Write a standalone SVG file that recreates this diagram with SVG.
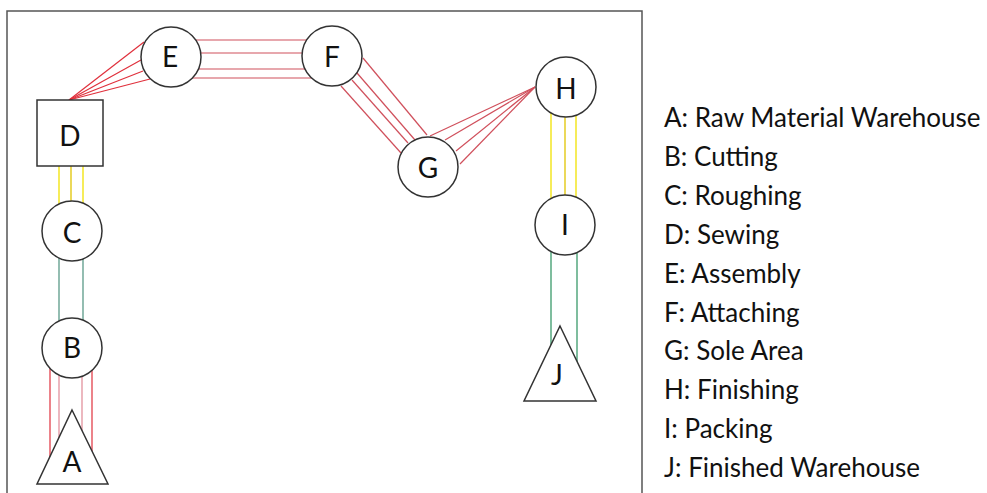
<svg xmlns="http://www.w3.org/2000/svg" width="987" height="493" viewBox="0 0 987 493">
<style>
.node{fill:#fff;stroke:#333;stroke-width:1.5}
.lbl{font-family:Lato,"Open Sans",sans-serif;font-size:28px;fill:#111;text-anchor:middle}
.leg{font-family:Lato,"Open Sans",sans-serif;font-size:26px;fill:#111}
.r{stroke:#e0303c;stroke-width:1.2;fill:none}
.r2{stroke:#d0505c;stroke-width:1.2;fill:none}
.pk{stroke:#e08894;stroke-width:1.2;fill:none}
.y{stroke:#f2e200;stroke-width:1.3;fill:none}
.y2{stroke:#e0c400;stroke-width:1.3;fill:none}
.g{stroke:#5a9a88;stroke-width:1.3;fill:none}
.g2{stroke:#3a9a6a;stroke-width:1.3;fill:none}
</style>
<rect x="0" y="0" width="987" height="493" fill="#fff"/>
<rect id="frame" x="7" y="11" width="635" height="492" fill="none" stroke="#555" stroke-width="1.5"/>
<g id="connectors">
  <line class="r" x1="69" y1="100" x2="144" y2="42"/>
  <line class="r" x1="69" y1="100" x2="141" y2="60"/>
  <line class="r" x1="69" y1="100" x2="143" y2="71"/>
  <line class="r" x1="69" y1="100" x2="150" y2="79"/>
  <line class="r2" x1="171" y1="40" x2="332" y2="40"/>
  <line class="r2" x1="171" y1="53" x2="332" y2="53"/>
  <line class="r2" x1="171" y1="69" x2="332" y2="69"/>
  <line class="r2" x1="171" y1="78" x2="332" y2="78"/>
  <line class="r2" x1="363" y1="58" x2="427" y2="135"/>
  <line class="r2" x1="357" y1="73" x2="415" y2="140"/>
  <line class="r2" x1="352" y1="80" x2="408" y2="143"/>
  <line class="r2" x1="341" y1="86" x2="401" y2="153"/>
  <line class="r2" x1="535" y1="87" x2="430" y2="136"/>
  <line class="r2" x1="535" y1="87" x2="445" y2="140"/>
  <line class="r2" x1="535" y1="87" x2="456" y2="151"/>
  <line class="r2" x1="535" y1="87" x2="460" y2="164"/>
  <line class="y" x1="551" y1="100" x2="551" y2="215"/>
  <line class="y2" x1="565" y1="100" x2="565" y2="215"/>
  <line class="y" x1="576" y1="100" x2="576" y2="215"/>
  <line class="g2" x1="551" y1="230" x2="551" y2="380"/>
  <line class="g2" x1="577" y1="230" x2="577" y2="380"/>
  <line class="y" x1="59" y1="160" x2="59" y2="220"/>
  <line class="y2" x1="71" y1="160" x2="71" y2="220"/>
  <line class="y" x1="83" y1="160" x2="83" y2="220"/>
  <line class="g" x1="59" y1="240" x2="59" y2="340"/>
  <line class="g" x1="83" y1="240" x2="83" y2="340"/>
  <line class="r" x1="50" y1="350" x2="50" y2="470"/>
  <line class="pk" x1="59" y1="350" x2="59" y2="470"/>
  <line class="pk" x1="82" y1="350" x2="82" y2="470"/>
  <line class="r" x1="92" y1="350" x2="92" y2="470"/>
</g>
<g id="D"><rect class="node" x="37" y="100" width="66" height="66"/><text class="lbl" x="70" y="146">D</text></g>
<g id="E"><circle class="node" cx="171" cy="57" r="30"/><text class="lbl" x="170" y="67">E</text></g>
<g id="F"><circle class="node" cx="332" cy="56" r="30"/><text class="lbl" x="332" y="67">F</text></g>
<g id="G"><circle class="node" cx="428" cy="167" r="30"/><text class="lbl" x="428" y="178">G</text></g>
<g id="H"><circle class="node" cx="566" cy="87" r="30"/><text class="lbl" x="566" y="99">H</text></g>
<g id="I"><circle class="node" cx="565" cy="225" r="30"/><text class="lbl" x="565" y="235">I</text></g>
<g id="C"><circle class="node" cx="72" cy="231" r="30"/><text class="lbl" x="72" y="243">C</text></g>
<g id="B"><circle class="node" cx="72" cy="348" r="30"/><text class="lbl" x="72" y="358">B</text></g>
<g id="A"><polygon class="node" points="72,410 108,484 37,484"/><text class="lbl" x="72" y="472">A</text></g>
<g id="J"><polygon class="node" points="560,326 596,401 524,401"/><text class="lbl" x="557" y="385">J</text></g>
<g id="legend">
  <text class="leg" x="664" y="127">A: Raw Material Warehouse</text>
  <text class="leg" x="664" y="166">B: Cutting</text>
  <text class="leg" x="664" y="205">C: Roughing</text>
  <text class="leg" x="664" y="244">D: Sewing</text>
  <text class="leg" x="664" y="283">E: Assembly</text>
  <text class="leg" x="664" y="322">F: Attaching</text>
  <text class="leg" x="664" y="360">G: Sole Area</text>
  <text class="leg" x="664" y="399">H: Finishing</text>
  <text class="leg" x="664" y="438">I: Packing</text>
  <text class="leg" x="664" y="477">J: Finished Warehouse</text>
</g>
</svg>
